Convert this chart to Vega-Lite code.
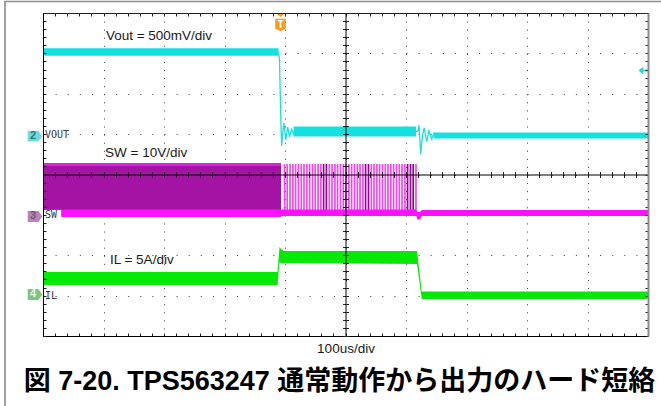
{
"$schema": "https://vega.github.io/schema/vega-lite/v6.json",
"width": 605, "height": 323,
"autosize": {"type": "none"},
"padding": {"left": 43, "top": 13, "right": 13, "bottom": 70},
"background": "white",
"view": {"stroke": null},
"title": {"text": "図 7-20. TPS563247 通常動作から出力のハード短絡", "orient": "bottom", "anchor": "middle", "frame": "group", "font": "Liberation Sans, Noto Sans CJK JP", "fontSize": 27, "fontWeight": "bold", "color": "#000000", "offset": -40, "dx": -6},
"config": {"axis": {"labels": false, "domainColor": "#000000", "tickColor": "#222222", "tickWidth": 1, "domainWidth": 1, "grid": false}},
"resolve": {"axis": {"x": "independent", "y": "independent"}, "scale": {"color": "independent"}},
"datasets": {
"frame": [{"x": -0.64, "x2": 10.3, "y": 4.285, "y2": 4.285}, {"x": -0.628, "x2": -0.628, "y": 4.3, "y2": -5.8}],
"sw_blocks": [
 {"x": 0, "x2": 3.934, "y": 0.235, "y2": -0.904, "tone": "dark"},
 {"x": 0, "x2": 3.934, "y": 0.285, "y2": 0.21, "tone": "top"},
 {"x": 0, "x2": 3.934, "y": -0.867, "y2": -1.053, "tone": "bot"}],
"pulses": [
 {"x": 3.992, "tone": "light"}, {"x": 4.036, "tone": "light"}, {"x": 4.083, "tone": "light"}, {"x": 4.131, "tone": "light"},
 {"x": 4.175, "tone": "light"}, {"x": 4.221, "tone": "light"}, {"x": 4.269, "tone": "light"}, {"x": 4.314, "tone": "light"},
 {"x": 4.362, "tone": "light"}, {"x": 4.407, "tone": "light"}, {"x": 4.455, "tone": "light"}, {"x": 4.499, "tone": "light"},
 {"x": 4.547, "tone": "light"}, {"x": 4.593, "tone": "light"}, {"x": 4.638, "tone": "dark"}, {"x": 4.684, "tone": "dark"},
 {"x": 4.732, "tone": "light"}, {"x": 4.777, "tone": "light"}, {"x": 4.825, "tone": "light"}, {"x": 4.869, "tone": "light"},
 {"x": 4.917, "tone": "light"}, {"x": 4.964, "tone": "light"}, {"x": 5.008, "tone": "light"}, {"x": 5.056, "tone": "light"},
 {"x": 5.101, "tone": "light"}, {"x": 5.149, "tone": "light"}, {"x": 5.196, "tone": "light"}, {"x": 5.24, "tone": "light"},
 {"x": 5.288, "tone": "light"}, {"x": 5.332, "tone": "dark"}, {"x": 5.38, "tone": "dark"}, {"x": 5.427, "tone": "light"},
 {"x": 5.471, "tone": "light"}, {"x": 5.519, "tone": "light"}, {"x": 5.564, "tone": "light"}, {"x": 5.612, "tone": "light"},
 {"x": 5.658, "tone": "light"}, {"x": 5.702, "tone": "light"}, {"x": 5.75, "tone": "light"}, {"x": 5.795, "tone": "light"},
 {"x": 5.843, "tone": "light"}, {"x": 5.889, "tone": "light"}, {"x": 5.934, "tone": "light"}, {"x": 5.982, "tone": "light"},
 {"x": 6.026, "tone": "dark"}, {"x": 6.074, "tone": "dark"}, {"x": 6.119, "tone": "dark"}, {"x": 6.165, "tone": "light"}],
"sw_base": [
 {"x": 3.93, "lo": -1.028, "hi": -0.867}, {"x": 6.17, "lo": -1.028, "hi": -0.867},
 {"x": 6.19, "lo": -1.115, "hi": -0.93}, {"x": 6.23, "lo": -1.115, "hi": -0.93},
 {"x": 6.26, "lo": -1.028, "hi": -0.879}, {"x": 10, "lo": -1.028, "hi": -0.879}],
"swbox": [{"x": 0.0165, "x2": 0.3, "y": -0.879, "y2": -1.152}],
"il_band": [
 {"x": 0, "lo": -2.737, "hi": -2.415}, {"x": 3.876, "lo": -2.737, "hi": -2.415},
 {"x": 3.909, "lo": -2.167, "hi": -1.796}, {"x": 3.934, "lo": -2.192, "hi": -1.845},
 {"x": 3.983, "lo": -2.192, "hi": -1.895}, {"x": 6.182, "lo": -2.217, "hi": -1.895},
 {"x": 6.26, "lo": -3.084, "hi": -2.898}, {"x": 10, "lo": -3.084, "hi": -2.898}],
"vout_band": [
 {"seg": "a", "x": 0, "lo": 2.94, "hi": 3.13}, {"seg": "a", "x": 3.893, "lo": 2.94, "hi": 3.13},
 {"seg": "b", "x": 4.14, "lo": 0.941, "hi": 1.189}, {"seg": "b", "x": 6.165, "lo": 0.941, "hi": 1.189},
 {"seg": "c", "x": 6.46, "lo": 0.892, "hi": 1.04}, {"seg": "c", "x": 10, "lo": 0.892, "hi": 1.04}],
"vout_line": [
 {"seg": "r1", "x": 3.893, "y": 3.034}, {"seg": "r1", "x": 3.909, "y": 2.836}, {"seg": "r1", "x": 3.922, "y": 1.969},
 {"seg": "r1", "x": 3.934, "y": 1.226}, {"seg": "r1", "x": 3.945, "y": 0.706}, {"seg": "r1", "x": 3.964, "y": 1.053},
 {"seg": "r1", "x": 3.983, "y": 1.276}, {"seg": "r1", "x": 4.012, "y": 0.854}, {"seg": "r1", "x": 4.045, "y": 1.176},
 {"seg": "r1", "x": 4.074, "y": 0.929}, {"seg": "r1", "x": 4.107, "y": 1.127}, {"seg": "r1", "x": 4.14, "y": 1.003},
 {"seg": "r1", "x": 4.165, "y": 1.077},
 {"seg": "r2", "x": 6.165, "y": 1.065}, {"seg": "r2", "x": 6.198, "y": 1.077}, {"seg": "r2", "x": 6.215, "y": 1.226},
 {"seg": "r2", "x": 6.243, "y": 0.508}, {"seg": "r2", "x": 6.273, "y": 0.978}, {"seg": "r2", "x": 6.302, "y": 1.152},
 {"seg": "r2", "x": 6.342, "y": 0.812}, {"seg": "r2", "x": 6.38, "y": 1.085}, {"seg": "r2", "x": 6.425, "y": 0.879},
 {"seg": "r2", "x": 6.463, "y": 1.028}, {"seg": "r2", "x": 6.512, "y": 0.954}],
"notes": [{"x": 1.04, "y": 3.43, "t": "Vout = 500mV/div"}, {"x": 1.025, "y": 0.532, "t": "SW = 10V/div"}, {"x": 1.107, "y": -2.118, "t": "IL = 5A/div"}],
"badges": [{"x": -0.132, "xn": -0.165, "y": 0.95, "ch": "2"}, {"x": -0.132, "xn": -0.165, "y": -1.04, "ch": "3"}, {"x": -0.132, "xn": -0.165, "y": -2.97, "ch": "4"}],
"chlabels": [{"x": 0.033, "y": 0.966, "t": "VOUT"}, {"x": 0.033, "y": -1.015, "t": "SW"}, {"x": 0.033, "y": -2.997, "t": "IL"}],
"trig": [{"x": 3.926, "yt": 3.95, "yb": 3.703, "t": "T"}],
"lvl": [{"x": 9.926, "y": 2.576}]
},
"layer": [
 {"data": {"name": "frame"}, "mark": {"type": "rule", "color": "#8c8c8c", "strokeWidth": 1.6},
  "encoding": {
   "x": {"field": "x", "type": "quantitative", "scale": {"domain": [0, 10], "nice": false, "zero": false},
     "axis": {"orient": "bottom", "values": [1, 2, 3, 4, 5, 6, 7, 8, 9], "grid": true, "gridDash": [1, 7.075], "gridColor": "#3a3a3a", "gridWidth": 1, "ticks": false, "domain": false, "labels": false, "title": null, "zindex": 0}},
   "x2": {"field": "x2"},
   "y": {"field": "y", "type": "quantitative", "scale": {"domain": [-4, 4], "nice": false, "zero": false},
     "axis": {"orient": "left", "values": [-3, -2, -1, 0, 1, 2, 3], "grid": true, "gridDash": [1, 11.1], "gridColor": "#3a3a3a", "gridWidth": 1, "ticks": false, "domain": false, "labels": false, "title": null, "zindex": 0}},
   "y2": {"field": "y2"}}},
 {"data": {"name": "sw_blocks"}, "mark": {"type": "rect"},
  "encoding": {
   "x": {"field": "x", "type": "quantitative", "scale": {"domain": [0, 10], "nice": false, "zero": false},
     "axis": {"orient": "bottom", "offset": -161.5, "values": [0,0.2,0.4,0.6,0.8,1,1.2,1.4,1.6,1.8,2,2.2,2.4,2.6,2.8,3,3.2,3.4,3.6,3.8,4,4.2,4.4,4.6,4.8,5,5.2,5.4,5.6,5.8,6,6.2,6.4,6.6,6.8,7,7.2,7.4,7.6,7.8,8,8.2,8.4,8.6,8.8,9,9.2,9.4,9.6,9.8,10], "tickSize": 3, "domain": true, "labels": false, "title": null, "zindex": 1}},
   "x2": {"field": "x2"},
   "y": {"field": "y", "type": "quantitative", "scale": {"domain": [-4, 4], "nice": false, "zero": false},
     "axis": {"orient": "left", "offset": -302.5, "values": [-4,-3.8,-3.6,-3.4,-3.2,-3,-2.8,-2.6,-2.4,-2.2,-2,-1.8,-1.6,-1.4,-1.2,-1,-0.8,-0.6,-0.4,-0.2,0,0.2,0.4,0.6,0.8,1,1.2,1.4,1.6,1.8,2,2.2,2.4,2.6,2.8,3,3.2,3.4,3.6,3.8,4], "tickSize": 3, "domain": true, "labels": false, "title": null, "zindex": 1}},
   "y2": {"field": "y2"},
   "color": {"field": "tone", "type": "nominal", "scale": {"domain": ["dark", "top", "bot"], "range": ["#a414a4", "#e020e0", "#ff10ff"]}, "legend": null}}},
 {"data": {"name": "pulses"}, "mark": {"type": "rule", "strokeWidth": 1.7},
  "encoding": {
   "x": {"field": "x", "type": "quantitative", "scale": {"domain": [0, 10], "nice": false, "zero": false},
     "axis": {"orient": "bottom", "offset": -161.5, "values": [0,0.2,0.4,0.6,0.8,1,1.2,1.4,1.6,1.8,2,2.2,2.4,2.6,2.8,3,3.2,3.4,3.6,3.8,4,4.2,4.4,4.6,4.8,5,5.2,5.4,5.6,5.8,6,6.2,6.4,6.6,6.8,7,7.2,7.4,7.6,7.8,8,8.2,8.4,8.6,8.8,9,9.2,9.4,9.6,9.8,10], "tickSize": -3, "domain": false, "labels": false, "title": null, "zindex": 1}},
   "y": {"datum": 0.26, "type": "quantitative", "scale": {"domain": [-4, 4], "nice": false, "zero": false},
     "axis": {"orient": "left", "offset": -302.5, "values": [-4,-3.8,-3.6,-3.4,-3.2,-3,-2.8,-2.6,-2.4,-2.2,-2,-1.8,-1.6,-1.4,-1.2,-1,-0.8,-0.6,-0.4,-0.2,0,0.2,0.4,0.6,0.8,1,1.2,1.4,1.6,1.8,2,2.2,2.4,2.6,2.8,3,3.2,3.4,3.6,3.8,4], "tickSize": -3, "domain": false, "labels": false, "title": null, "zindex": 1}},
   "y2": {"datum": -0.88},
   "color": {"field": "tone", "type": "nominal", "scale": {"domain": ["light", "dark"], "range": ["#ec4cec", "#9a009a"]}, "legend": null}}},
 {"data": {"name": "sw_base"}, "mark": {"type": "area", "color": "#ff10ff"},
  "encoding": {
   "x": {"field": "x", "type": "quantitative", "scale": {"domain": [0, 10], "nice": false, "zero": false}, "axis": null},
   "y": {"field": "hi", "type": "quantitative", "scale": {"domain": [-4, 4], "nice": false, "zero": false}, "axis": null},
   "y2": {"field": "lo"}}},
 {"data": {"name": "swbox"}, "mark": {"type": "rect", "color": "#ffffff"},
  "encoding": {
   "x": {"field": "x", "type": "quantitative", "scale": {"domain": [0, 10], "nice": false, "zero": false}, "axis": null},
   "x2": {"field": "x2"},
   "y": {"field": "y", "type": "quantitative", "scale": {"domain": [-4, 4], "nice": false, "zero": false}, "axis": null},
   "y2": {"field": "y2"}}},
 {"data": {"name": "il_band"}, "mark": {"type": "area", "color": "#06e806"},
  "encoding": {
   "x": {"field": "x", "type": "quantitative", "scale": {"domain": [0, 10], "nice": false, "zero": false},
     "axis": {"orient": "bottom", "values": [0,0.2,0.4,0.6,0.8,1,1.2,1.4,1.6,1.8,2,2.2,2.4,2.6,2.8,3,3.2,3.4,3.6,3.8,4,4.2,4.4,4.6,4.8,5,5.2,5.4,5.6,5.8,6,6.2,6.4,6.6,6.8,7,7.2,7.4,7.6,7.8,8,8.2,8.4,8.6,8.8,9,9.2,9.4,9.6,9.8,10], "tickSize": -3, "domain": true, "labels": false, "title": "100us/div", "titleFont": "Liberation Sans", "titleFontSize": 13.5, "titleFontWeight": "normal", "titleColor": "#1a1a1a", "titlePadding": 5, "zindex": 1}},
   "y": {"field": "hi", "type": "quantitative", "scale": {"domain": [-4, 4], "nice": false, "zero": false},
     "axis": {"orient": "left", "values": [-4,-3.8,-3.6,-3.4,-3.2,-3,-2.8,-2.6,-2.4,-2.2,-2,-1.8,-1.6,-1.4,-1.2,-1,-0.8,-0.6,-0.4,-0.2,0,0.2,0.4,0.6,0.8,1,1.2,1.4,1.6,1.8,2,2.2,2.4,2.6,2.8,3,3.2,3.4,3.6,3.8,4], "tickSize": -3, "domain": true, "labels": false, "title": null, "zindex": 1}},
   "y2": {"field": "lo"}}},
 {"data": {"name": "vout_band"}, "mark": {"type": "area", "color": "#14e0e0"},
  "encoding": {
   "x": {"field": "x", "type": "quantitative", "scale": {"domain": [0, 10], "nice": false, "zero": false},
     "axis": {"orient": "top", "values": [0,0.2,0.4,0.6,0.8,1,1.2,1.4,1.6,1.8,2,2.2,2.4,2.6,2.8,3,3.2,3.4,3.6,3.8,4,4.2,4.4,4.6,4.8,5,5.2,5.4,5.6,5.8,6,6.2,6.4,6.6,6.8,7,7.2,7.4,7.6,7.8,8,8.2,8.4,8.6,8.8,9,9.2,9.4,9.6,9.8,10], "tickSize": -3, "domain": true, "domainColor": "#222222", "labels": false, "title": null, "zindex": 1}},
   "y": {"field": "hi", "type": "quantitative", "scale": {"domain": [-4, 4], "nice": false, "zero": false},
     "axis": {"orient": "right", "values": [-4,-3.8,-3.6,-3.4,-3.2,-3,-2.8,-2.6,-2.4,-2.2,-2,-1.8,-1.6,-1.4,-1.2,-1,-0.8,-0.6,-0.4,-0.2,0,0.2,0.4,0.6,0.8,1,1.2,1.4,1.6,1.8,2,2.2,2.4,2.6,2.8,3,3.2,3.4,3.6,3.8,4], "tickSize": -3, "domain": true, "domainColor": "#8a8a8a", "domainWidth": 2, "labels": false, "title": null, "zindex": 1}},
   "y2": {"field": "lo"},
   "detail": {"field": "seg"}}},
 {"data": {"name": "vout_line"}, "mark": {"type": "line", "color": "#14e0e0", "strokeWidth": 1.3},
  "encoding": {
   "x": {"field": "x", "type": "quantitative", "scale": {"domain": [0, 10], "nice": false, "zero": false}, "axis": null},
   "y": {"field": "y", "type": "quantitative", "scale": {"domain": [-4, 4], "nice": false, "zero": false}, "axis": null},
   "detail": {"field": "seg"}}},
 {"data": {"name": "notes"}, "mark": {"type": "text", "align": "left", "baseline": "middle", "font": "Liberation Sans", "fontSize": 13.5, "color": "#1a1a1a"},
  "encoding": {
   "x": {"field": "x", "type": "quantitative", "scale": {"domain": [0, 10], "nice": false, "zero": false}, "axis": null},
   "y": {"field": "y", "type": "quantitative", "scale": {"domain": [-4, 4], "nice": false, "zero": false}, "axis": null},
   "text": {"field": "t"}}},
 {"data": {"name": "badges"}, "mark": {"type": "point", "filled": true, "opacity": 1, "size": 213, "shape": "M-1,-0.75 L0.45,-0.75 L1,0 L0.45,0.75 L-1,0.75 Z"},
  "encoding": {
   "x": {"field": "x", "type": "quantitative", "scale": {"domain": [0, 10], "nice": false, "zero": false}, "axis": null},
   "y": {"field": "y", "type": "quantitative", "scale": {"domain": [-4, 4], "nice": false, "zero": false}, "axis": null},
   "color": {"field": "ch", "type": "nominal", "scale": {"domain": ["2", "3", "4"], "range": ["#6fdcdc", "#b884b8", "#80c480"]}, "legend": null}}},
 {"data": {"name": "badges"}, "mark": {"type": "text", "align": "center", "baseline": "middle", "font": "Liberation Sans", "fontSize": 11, "fontWeight": "bold"},
  "encoding": {
   "x": {"field": "xn", "type": "quantitative", "scale": {"domain": [0, 10], "nice": false, "zero": false}, "axis": null},
   "y": {"field": "y", "type": "quantitative", "scale": {"domain": [-4, 4], "nice": false, "zero": false}, "axis": null},
   "text": {"field": "ch"},
   "color": {"field": "ch", "type": "nominal", "scale": {"domain": ["2", "3", "4"], "range": ["#2f7777", "#7a4f7a", "#e8ffe8"]}, "legend": null}}},
 {"data": {"name": "chlabels"}, "mark": {"type": "text", "align": "left", "baseline": "middle", "font": "DejaVu Sans Mono", "fontSize": 10, "color": "#3a3a3a"},
  "encoding": {
   "x": {"field": "x", "type": "quantitative", "scale": {"domain": [0, 10], "nice": false, "zero": false}, "axis": null},
   "y": {"field": "y", "type": "quantitative", "scale": {"domain": [-4, 4], "nice": false, "zero": false}, "axis": null},
   "text": {"field": "t"}}},
 {"data": {"name": "trig"}, "mark": {"type": "point", "filled": true, "opacity": 1, "size": 100, "color": "#f39c1e", "shape": "M-1,-0.4 L1,-0.4 L0,0.4 Z"},
  "encoding": {
   "x": {"field": "x", "type": "quantitative", "scale": {"domain": [0, 10], "nice": false, "zero": false}, "axis": null},
   "y": {"field": "yt", "type": "quantitative", "scale": {"domain": [-4, 4], "nice": false, "zero": false}, "axis": null}}},
 {"data": {"name": "trig"}, "mark": {"type": "point", "filled": true, "opacity": 1, "size": 112, "color": "#f39c1e", "shape": "M-1,-1.2 L1,-1.2 L1,0.7 L0,1.2 L-1,0.7 Z"},
  "encoding": {
   "x": {"field": "x", "type": "quantitative", "scale": {"domain": [0, 10], "nice": false, "zero": false}, "axis": null},
   "y": {"field": "yb", "type": "quantitative", "scale": {"domain": [-4, 4], "nice": false, "zero": false}, "axis": null}}},
 {"data": {"name": "trig"}, "mark": {"type": "text", "align": "center", "baseline": "middle", "font": "Liberation Sans", "fontSize": 10, "fontWeight": "bold", "color": "#ffffff"},
  "encoding": {
   "x": {"field": "x", "type": "quantitative", "scale": {"domain": [0, 10], "nice": false, "zero": false}, "axis": null},
   "y": {"field": "yb", "type": "quantitative", "scale": {"domain": [-4, 4], "nice": false, "zero": false}, "axis": null},
   "text": {"field": "t"}}},
 {"data": {"name": "lvl"}, "mark": {"type": "point", "filled": true, "opacity": 1, "size": 100, "color": "#14e0e0", "shape": "M-1,0 L-0.1,-0.75 L-0.1,-0.2 L1,-0.2 L1,0.2 L-0.1,0.2 L-0.1,0.75 Z"},
  "encoding": {
   "x": {"field": "x", "type": "quantitative", "scale": {"domain": [0, 10], "nice": false, "zero": false}, "axis": null},
   "y": {"field": "y", "type": "quantitative", "scale": {"domain": [-4, 4], "nice": false, "zero": false}, "axis": null}}}
]
}
